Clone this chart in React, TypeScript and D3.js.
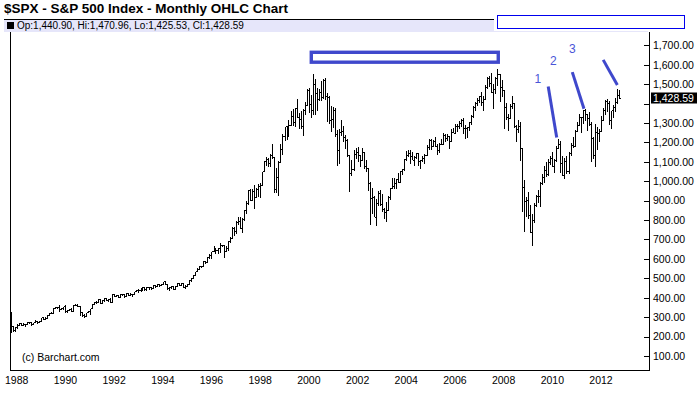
import React from "react";
import * as d3 from "d3";

type Bar = [number, number, number, number]; // open, high, low, close

const firstMonth = new Date(1987, 9, 1);

const y1987: Bar[] = [
  [321.8, 328.9, 216.5, 251.8], [251.8, 255.7, 223.0, 230.3], [230.3, 249.2, 223.9, 247.1],
];
const y1988: Bar[] = [
  [247.1, 263.8, 240.2, 257.1], [257.1, 268.0, 255.0, 267.8], [267.8, 271.1, 256.8, 258.9],
  [258.9, 270.0, 256.1, 261.3], [261.3, 263.2, 248.9, 262.2], [262.2, 274.8, 261.0, 273.5],
  [273.5, 274.5, 263.0, 272.0], [272.0, 274.5, 256.0, 261.5], [261.5, 272.0, 258.4, 271.9],
  [271.9, 283.7, 270.3, 279.0], [279.0, 280.0, 263.1, 273.7], [273.7, 279.5, 270.0, 277.7],
];
const y1989: Bar[] = [
  [277.7, 297.5, 272.8, 297.5], [297.5, 300.5, 287.0, 288.9], [288.9, 300.0, 285.5, 294.9],
  [294.9, 310.5, 291.0, 309.6], [309.6, 322.0, 305.0, 320.5], [320.5, 328.0, 315.0, 318.0],
  [318.0, 347.0, 315.0, 346.1], [346.1, 354.0, 341.0, 351.5], [351.5, 353.0, 341.5, 349.2],
  [349.2, 360.4, 327.0, 340.4], [340.4, 347.0, 335.0, 346.0], [346.0, 354.0, 339.0, 353.4],
];
const y1990: Bar[] = [
  [353.4, 360.6, 321.4, 329.1], [329.1, 337.0, 322.0, 331.9], [331.9, 344.5, 330.0, 339.9],
  [339.9, 346.0, 327.0, 330.8], [330.8, 363.0, 330.0, 361.2], [361.2, 368.9, 355.0, 358.0],
  [358.0, 369.8, 352.0, 356.2], [356.2, 357.0, 306.5, 322.6], [322.6, 325.0, 300.0, 306.1],
  [306.1, 315.0, 294.5, 304.0], [304.0, 323.0, 303.0, 322.2], [322.2, 332.0, 321.0, 330.2],
];
const y1991: Bar[] = [
  [330.2, 344.0, 309.4, 343.9], [343.9, 370.0, 340.0, 367.1], [367.1, 378.0, 363.0, 375.2],
  [375.2, 384.0, 368.0, 375.4], [375.4, 391.0, 373.0, 389.8], [389.8, 391.5, 369.0, 371.2],
  [371.2, 390.5, 370.0, 387.8], [387.8, 397.0, 377.0, 395.4], [395.4, 396.0, 383.0, 387.9],
  [387.9, 395.0, 379.0, 392.5], [392.5, 398.0, 374.0, 375.2], [375.2, 418.0, 371.0, 417.1],
];
const y1992: Bar[] = [
  [417.1, 421.0, 403.0, 408.8], [408.8, 416.0, 406.0, 412.7], [412.7, 413.0, 400.0, 403.7],
  [403.7, 419.0, 398.0, 415.0], [415.0, 420.0, 409.0, 415.4], [415.4, 418.0, 401.0, 408.1],
  [408.1, 425.0, 404.0, 424.2], [424.2, 425.0, 410.0, 414.0], [414.0, 423.0, 412.0, 417.8],
  [417.8, 420.0, 402.0, 418.7], [418.7, 432.0, 417.0, 431.4], [431.4, 441.0, 428.0, 435.7],
];
const y1993: Bar[] = [
  [435.7, 443.0, 425.0, 438.8], [438.8, 449.0, 431.0, 443.4], [443.4, 456.0, 437.0, 451.7],
  [451.7, 452.0, 434.0, 440.2], [440.2, 454.0, 437.0, 450.2], [450.2, 454.0, 441.0, 450.5],
  [450.5, 451.0, 441.0, 448.1], [448.1, 464.0, 447.0, 463.6], [463.6, 466.0, 450.0, 458.9],
  [458.9, 470.0, 457.0, 467.8], [467.8, 469.0, 454.0, 461.8], [461.8, 471.0, 461.0, 466.5],
];
const y1994: Bar[] = [
  [466.5, 482.9, 465.0, 481.6], [481.6, 482.0, 464.0, 467.1], [467.1, 470.0, 438.0, 445.8],
  [445.8, 453.0, 435.0, 450.9], [450.9, 458.0, 443.0, 456.5], [456.5, 462.0, 442.0, 444.3],
  [444.3, 459.0, 443.0, 458.3], [458.3, 476.0, 457.0, 475.5], [475.5, 476.0, 460.0, 462.7],
  [462.7, 474.0, 461.0, 472.4], [472.4, 474.0, 449.0, 453.7], [453.7, 466.0, 445.0, 459.3],
];
const y1995: Bar[] = [
  [459.3, 472.0, 457.0, 470.4], [470.4, 489.0, 469.0, 487.4], [487.4, 503.0, 480.0, 500.7],
  [500.7, 515.0, 500.0, 514.7], [514.7, 535.0, 510.0, 533.4], [533.4, 551.0, 530.0, 544.8],
  [544.8, 563.0, 541.0, 562.1], [562.1, 565.0, 553.0, 561.9], [561.9, 587.0, 560.0, 584.4],
  [584.4, 588.0, 572.0, 581.5], [581.5, 608.0, 581.0, 605.4], [605.4, 623.0, 602.0, 615.9],
];
const y1996: Bar[] = [
  [615.9, 637.0, 597.0, 636.0], [636.0, 664.0, 633.0, 640.4], [640.4, 656.0, 627.0, 645.5],
  [645.5, 656.0, 624.0, 654.2], [654.2, 681.0, 630.0, 669.1], [669.1, 674.0, 659.0, 670.6],
  [670.6, 673.0, 605.0, 640.0], [640.0, 667.0, 639.0, 652.0], [652.0, 691.0, 643.0, 687.3],
  [687.3, 714.0, 684.0, 705.3], [705.3, 762.0, 703.0, 757.0], [757.0, 762.0, 716.0, 740.7],
];
const y1997: Bar[] = [
  [740.7, 794.0, 729.0, 786.2], [786.2, 818.0, 773.0, 790.8], [790.8, 816.0, 756.0, 757.1],
  [757.1, 813.0, 733.0, 801.3], [801.3, 851.0, 793.0, 848.3], [848.3, 899.0, 833.0, 885.1],
  [885.1, 957.0, 880.0, 954.3], [954.3, 961.0, 899.0, 899.5], [899.5, 960.0, 899.0, 947.3],
  [947.3, 983.0, 855.0, 914.6], [914.6, 964.0, 914.0, 955.4], [955.4, 986.0, 920.0, 970.4],
];
const y1998: Bar[] = [
  [970.4, 993.0, 912.0, 980.3], [980.3, 1050.0, 980.0, 1049.3], [1049.3, 1105.0, 1047.0, 1101.8],
  [1101.8, 1123.0, 1076.0, 1111.8], [1111.8, 1122.0, 1074.0, 1090.8], [1090.8, 1139.0, 1074.0, 1133.8],
  [1133.8, 1190.6, 1114.0, 1120.7], [1120.7, 1121.0, 939.0, 957.3], [957.3, 1066.0, 939.0, 1017.0],
  [1017.0, 1103.0, 923.0, 1098.7], [1098.7, 1193.0, 1094.0, 1163.6], [1163.6, 1245.0, 1137.0, 1229.2],
];
const y1999: Bar[] = [
  [1229.2, 1280.0, 1205.0, 1279.6], [1279.6, 1283.0, 1212.0, 1238.3], [1238.3, 1316.0, 1226.0, 1286.4],
  [1286.4, 1362.0, 1282.0, 1335.2], [1335.2, 1374.0, 1286.0, 1301.8], [1301.8, 1376.0, 1277.0, 1372.7],
  [1372.7, 1421.0, 1328.0, 1328.7], [1328.7, 1352.0, 1269.0, 1320.4], [1320.4, 1361.0, 1268.0, 1282.7],
  [1282.7, 1373.0, 1233.0, 1362.9], [1362.9, 1408.0, 1342.0, 1388.9], [1388.9, 1473.0, 1387.0, 1469.3],
];
const y2000: Bar[] = [
  [1469.3, 1478.0, 1350.0, 1394.5], [1394.5, 1444.0, 1325.0, 1366.4], [1366.4, 1553.0, 1339.0, 1498.6],
  [1498.6, 1528.0, 1339.0, 1452.4], [1452.4, 1482.0, 1361.0, 1420.6], [1420.6, 1474.0, 1415.0, 1454.6],
  [1454.6, 1517.0, 1413.0, 1430.8], [1430.8, 1525.0, 1421.0, 1517.7], [1517.7, 1531.0, 1419.0, 1436.5],
  [1436.5, 1454.0, 1305.0, 1429.4], [1429.4, 1438.0, 1294.0, 1315.0], [1315.0, 1389.0, 1254.0, 1320.3],
];
const y2001: Bar[] = [
  [1320.3, 1383.0, 1275.0, 1366.0], [1366.0, 1376.0, 1228.0, 1239.9], [1239.9, 1263.0, 1081.0, 1160.3],
  [1160.3, 1269.0, 1091.0, 1249.5], [1249.5, 1316.0, 1232.0, 1255.8], [1255.8, 1286.0, 1203.0, 1224.4],
  [1224.4, 1239.0, 1165.0, 1211.2], [1211.2, 1218.0, 1124.0, 1133.6], [1133.6, 1135.0, 944.0, 1040.9],
  [1040.9, 1111.0, 1026.0, 1059.8], [1059.8, 1160.0, 1054.0, 1139.5], [1139.5, 1173.0, 1114.0, 1148.1],
];
const y2002: Bar[] = [
  [1148.1, 1176.0, 1101.0, 1130.2], [1130.2, 1131.0, 1074.0, 1106.7], [1106.7, 1173.0, 1106.0, 1147.4],
  [1147.4, 1147.8, 1064.0, 1076.9], [1076.9, 1107.0, 1048.0, 1067.1], [1067.1, 1070.0, 952.0, 989.8],
  [989.8, 994.0, 775.7, 911.6], [911.6, 965.0, 833.0, 916.1], [916.1, 925.0, 815.0, 815.3],
  [815.3, 907.0, 768.6, 885.8], [885.8, 951.0, 872.0, 936.3], [936.3, 954.0, 872.0, 879.8],
];
const y2003: Bar[] = [
  [879.8, 935.0, 840.0, 855.7], [855.7, 864.0, 806.0, 841.2], [841.2, 895.0, 788.9, 848.2],
  [848.2, 924.0, 847.0, 916.9], [916.9, 965.0, 902.0, 963.6], [963.6, 1015.0, 963.0, 974.5],
  [974.5, 1015.0, 962.0, 990.3], [990.3, 1011.0, 960.0, 1008.0], [1008.0, 1040.0, 990.0, 996.0],
  [996.0, 1053.0, 996.0, 1050.7], [1050.7, 1063.0, 1031.0, 1058.2], [1058.2, 1112.0, 1053.0, 1111.9],
];
const y2004: Bar[] = [
  [1111.9, 1155.0, 1105.0, 1131.1], [1131.1, 1159.0, 1123.0, 1144.9], [1144.9, 1163.0, 1087.0, 1126.2],
  [1126.2, 1150.0, 1107.0, 1107.3], [1107.3, 1128.0, 1076.0, 1120.7], [1120.7, 1146.0, 1113.0, 1140.8],
  [1140.8, 1141.0, 1078.0, 1101.7], [1101.7, 1109.0, 1060.7, 1104.2], [1104.2, 1131.0, 1101.0, 1114.6],
  [1114.6, 1142.0, 1090.0, 1130.2], [1130.2, 1188.0, 1128.0, 1173.8], [1173.8, 1217.0, 1163.0, 1211.9],
];
const y2005: Bar[] = [
  [1211.9, 1217.0, 1163.0, 1181.3], [1181.3, 1212.0, 1180.0, 1203.6], [1203.6, 1229.0, 1176.0, 1180.6],
  [1180.6, 1192.0, 1137.0, 1156.9], [1156.9, 1199.0, 1146.0, 1191.5], [1191.5, 1219.0, 1188.0, 1191.3],
  [1191.3, 1246.0, 1191.0, 1234.2], [1234.2, 1245.0, 1201.0, 1220.3], [1220.3, 1243.0, 1205.0, 1228.8],
  [1228.8, 1233.0, 1168.0, 1207.0], [1207.0, 1270.0, 1202.0, 1249.5], [1249.5, 1276.0, 1246.0, 1248.3],
];
const y2006: Bar[] = [
  [1248.3, 1295.0, 1245.0, 1280.1], [1280.1, 1297.0, 1253.0, 1280.7], [1280.7, 1310.0, 1268.0, 1294.8],
  [1294.8, 1319.0, 1280.0, 1310.6], [1310.6, 1326.7, 1245.0, 1270.1], [1270.1, 1287.0, 1219.3, 1270.2],
  [1270.2, 1280.0, 1224.5, 1276.7], [1276.7, 1307.0, 1261.0, 1303.8], [1303.8, 1340.0, 1290.0, 1335.9],
  [1335.9, 1389.0, 1327.0, 1377.9], [1377.9, 1407.0, 1360.0, 1400.6], [1400.6, 1431.0, 1385.0, 1418.3],
];
const y2007: Bar[] = [
  [1418.3, 1441.0, 1403.0, 1438.2], [1438.2, 1461.6, 1389.0, 1406.8], [1406.8, 1438.0, 1363.8, 1420.9],
  [1420.9, 1498.0, 1416.0, 1482.4], [1482.4, 1535.0, 1476.0, 1530.6], [1530.6, 1540.6, 1484.0, 1503.4],
  [1503.4, 1555.9, 1454.0, 1455.3], [1455.3, 1503.0, 1370.6, 1474.0], [1474.0, 1538.7, 1451.0, 1526.8],
  [1526.8, 1576.1, 1489.0, 1549.4], [1549.4, 1552.8, 1406.1, 1481.1], [1481.1, 1523.6, 1435.6, 1468.4],
];
const y2008: Bar[] = [
  [1468.4, 1471.8, 1270.1, 1378.6], [1378.6, 1404.0, 1316.8, 1330.6], [1330.6, 1344.0, 1256.9, 1322.7],
  [1322.7, 1397.0, 1322.0, 1385.6], [1385.6, 1440.2, 1373.0, 1400.4], [1400.4, 1404.1, 1272.0, 1280.0],
  [1280.0, 1292.0, 1200.4, 1267.4], [1267.4, 1313.2, 1247.5, 1282.8], [1282.8, 1303.0, 1106.4, 1166.4],
  [1166.4, 1167.0, 839.8, 968.8], [968.8, 1007.5, 741.0, 896.2], [896.2, 918.9, 815.7, 903.3],
];
const y2009: Bar[] = [
  [903.3, 943.9, 804.2, 825.9], [825.9, 877.9, 734.5, 735.1], [735.1, 833.0, 666.8, 797.9],
  [797.9, 888.7, 783.3, 872.8], [872.8, 930.2, 866.1, 919.1], [919.1, 956.2, 888.9, 919.3],
  [919.3, 996.7, 869.3, 987.5], [987.5, 1039.5, 978.5, 1020.6], [1020.6, 1080.2, 992.3, 1057.1],
  [1057.1, 1101.4, 1020.2, 1036.2], [1036.2, 1113.7, 1029.4, 1095.6], [1095.6, 1130.4, 1085.9, 1115.1],
];
const y2010: Bar[] = [
  [1115.1, 1150.5, 1071.6, 1073.9], [1073.9, 1112.4, 1044.5, 1104.5], [1104.5, 1180.2, 1101.4, 1169.4],
  [1169.4, 1219.8, 1167.0, 1186.7], [1186.7, 1206.0, 1040.8, 1089.4], [1089.4, 1131.2, 1028.3, 1030.7],
  [1030.7, 1120.0, 1010.9, 1101.6], [1101.6, 1129.2, 1039.7, 1049.3], [1049.3, 1148.7, 1039.0, 1141.2],
  [1141.2, 1196.1, 1131.9, 1183.3], [1183.3, 1227.1, 1173.0, 1180.6], [1180.6, 1262.6, 1179.0, 1257.6],
];
const y2011: Bar[] = [
  [1257.6, 1302.7, 1257.6, 1286.1], [1286.1, 1344.1, 1282.9, 1327.2], [1327.2, 1332.3, 1249.1, 1325.8],
  [1325.8, 1366.7, 1294.7, 1363.6], [1363.6, 1370.6, 1311.8, 1345.2], [1345.2, 1347.0, 1258.1, 1320.6],
  [1320.6, 1356.5, 1282.9, 1292.3], [1292.3, 1307.4, 1101.5, 1218.9], [1218.9, 1229.3, 1114.2, 1131.4],
  [1131.4, 1292.7, 1074.8, 1253.3], [1253.3, 1277.6, 1158.7, 1247.0], [1247.0, 1269.4, 1202.4, 1257.6],
];
const y2012: Bar[] = [
  [1257.6, 1333.5, 1257.6, 1312.4], [1312.4, 1378.0, 1312.4, 1365.7], [1365.7, 1419.2, 1340.0, 1408.5],
  [1408.5, 1422.4, 1357.4, 1397.9], [1397.9, 1415.3, 1291.0, 1310.3], [1310.3, 1363.5, 1266.7, 1362.2],
  [1362.2, 1391.7, 1325.4, 1379.3], [1379.3, 1426.7, 1354.7, 1406.6], [1406.6, 1474.5, 1396.6, 1440.7],
  [1440.9, 1470.96, 1425.53, 1428.59],
];

const allYears: Bar[][] = [
  y1987, y1988, y1989, y1990, y1991, y1992, y1993, y1994, y1995, y1996, y1997, y1998, y1999,
  y2000, y2001, y2002, y2003, y2004, y2005, y2006, y2007, y2008, y2009, y2010, y2011, y2012,
];

const yTicks = [100, 200, 300, 400, 500, 600, 700, 800, 900, 1000, 1100, 1200, 1300, 1400, 1500, 1600, 1700];
const xTickYears = [1988, 1990, 1992, 1994, 1996, 1998, 2000, 2002, 2004, 2006, 2008, 2010, 2012];

const title = "$SPX - S&P 500 Index - Monthly OHLC Chart";
const legendText = "Op:1,440.90, Hi:1,470.96, Lo:1,425.53, Cl:1,428.59";
const lastPrice = 1428.59;

// annotations in data coords (decimal year, price)
const annoRect = { x0: 2000.1, x1: 2007.78, v0: 1664, v1: 1613 };
const annoLines = [
  { x0: 2009.83, v0: 1488, x1: 2010.18, v1: 1225 },
  { x0: 2010.82, v0: 1562, x1: 2011.3, v1: 1373 },
  { x0: 2012.09, v0: 1625, x1: 2012.67, v1: 1496 },
];
const annoLabels = [
  { text: "1", x: 2009.4, v: 1527 },
  { text: "2", x: 2010.04, v: 1622 },
  { text: "3", x: 2010.82, v: 1686 },
];

const W = 700;
const H = 411;
const plotLeft = 10;
const plotRight = 649;
const plotTop = 32;
const plotBottom = 370;
const FONT = "'Liberation Sans', Arial, sans-serif";
const BLUE = "#3f48cc";

function decYear(y: number): Date {
  const yr = Math.floor(y);
  const frac = y - yr;
  const a = new Date(yr, 0, 1).getTime();
  const b = new Date(yr + 1, 0, 1).getTime();
  return new Date(a + (b - a) * frac);
}

export default function App() {
  const bars = allYears.flat().map((b, i) => ({
    date: d3.timeMonth.offset(firstMonth, i),
    o: b[0], h: b[1], l: b[2], c: b[3],
  }));

  const x = d3.scaleTime().domain([new Date(1988, 0, 1), new Date(2012, 0, 1)]).range([16.7, 601]);
  const y = d3.scaleLinear().domain([100, 1700]).range([356, 45.3]);
  const fmt = d3.format(",.2f");
  const priceY = y(lastPrice);

  const barPath = bars
    .map((b) => {
      const cx = Math.round(x(b.date)) + 0.5;
      return `M${cx},${y(b.h)}V${y(b.l)}M${cx - 1.5},${y(b.o)}H${cx}M${cx},${y(b.c)}H${cx + 1.5}`;
    })
    .join("");

  return (
    <svg
      width={W}
      height={H}
      style={{ position: "absolute", left: 0, top: 0, background: "#fff" }}
      fontFamily={FONT}
    >
      <rect x={0} y={0} width={W} height={H} fill="#fff" />
      {/* title */}
      <text x={4} y={13} fontSize={13.5} fontWeight="bold" fill="#000">{title}</text>
      {/* legend band */}
      <rect x={4} y={19} width={644} height={13} fill="#e6e6fa" />
      <line x1={4} x2={648} y1={19.5} y2={19.5} stroke="#000" strokeWidth={1} />
      <rect x={7} y={22} width={7} height={7} fill="#000" />
      <text x={17} y={29} fontSize={10} fill="#000">{legendText}</text>
      {/* white box top right */}
      <rect x={494} y={13} width={193} height={18} fill="#fff" />
      <rect x={497.5} y={15.5} width={187} height={13} fill="#fff" stroke="#0000ee" strokeWidth={1} />

      {/* axes */}
      <line x1={plotLeft + 0.5} x2={plotLeft + 0.5} y1={plotTop} y2={plotBottom} stroke="#000" />
      <line x1={plotLeft} x2={plotRight + 0.5} y1={plotBottom + 0.5} y2={plotBottom + 0.5} stroke="#000" />
      <line x1={plotRight + 0.5} x2={plotRight + 0.5} y1={plotTop} y2={plotBottom + 1} stroke="#000" />

      {yTicks.map((t) => (
        <g key={t}>
          <line x1={plotRight - 5} x2={plotRight} y1={Math.round(y(t)) + 0.5} y2={Math.round(y(t)) + 0.5} stroke="#000" />
          {Math.abs(y(t) - priceY) > 8 && (
            <text x={653} y={y(t) + 3.8} fontSize={10.5} fill="#000">{fmt(t)}</text>
          )}
        </g>
      ))}
      {xTickYears.map((yr) => (
        <text key={yr} x={x(new Date(yr, 0, 1))} y={384} fontSize={10.5} textAnchor="middle" fill="#000">
          {yr}
        </text>
      ))}

      {/* last price box */}
      <rect x={651} y={priceY - 5.5} width={46} height={11} fill="#000" />
      <text x={653} y={priceY + 3.8} fontSize={10.5} fill="#fff">{fmt(lastPrice)}</text>

      {/* OHLC bars */}
      <path d={barPath} stroke="#000" strokeWidth={1} fill="none" shapeRendering="crispEdges" />

      <text x={22} y={361} fontSize={10.5} fill="#000">(c) Barchart.com</text>

      {/* annotations */}
      <rect
        x={x(decYear(annoRect.x0))}
        y={y(annoRect.v0)}
        width={x(decYear(annoRect.x1)) - x(decYear(annoRect.x0))}
        height={y(annoRect.v1) - y(annoRect.v0)}
        fill="none"
        stroke={BLUE}
        strokeWidth={3.4}
      />
      {annoLines.map((l, i) => (
        <line
          key={i}
          x1={x(decYear(l.x0))}
          y1={y(l.v0)}
          x2={x(decYear(l.x1))}
          y2={y(l.v1)}
          stroke={BLUE}
          strokeWidth={3}
        />
      ))}
      {annoLabels.map((t) => (
        <text
          key={t.text}
          x={x(decYear(t.x))}
          y={y(t.v) + 4.5}
          fontSize={12}
          textAnchor="middle"
          fill="#4a55d8"
        >
          {t.text}
        </text>
      ))}
    </svg>
  );
}
